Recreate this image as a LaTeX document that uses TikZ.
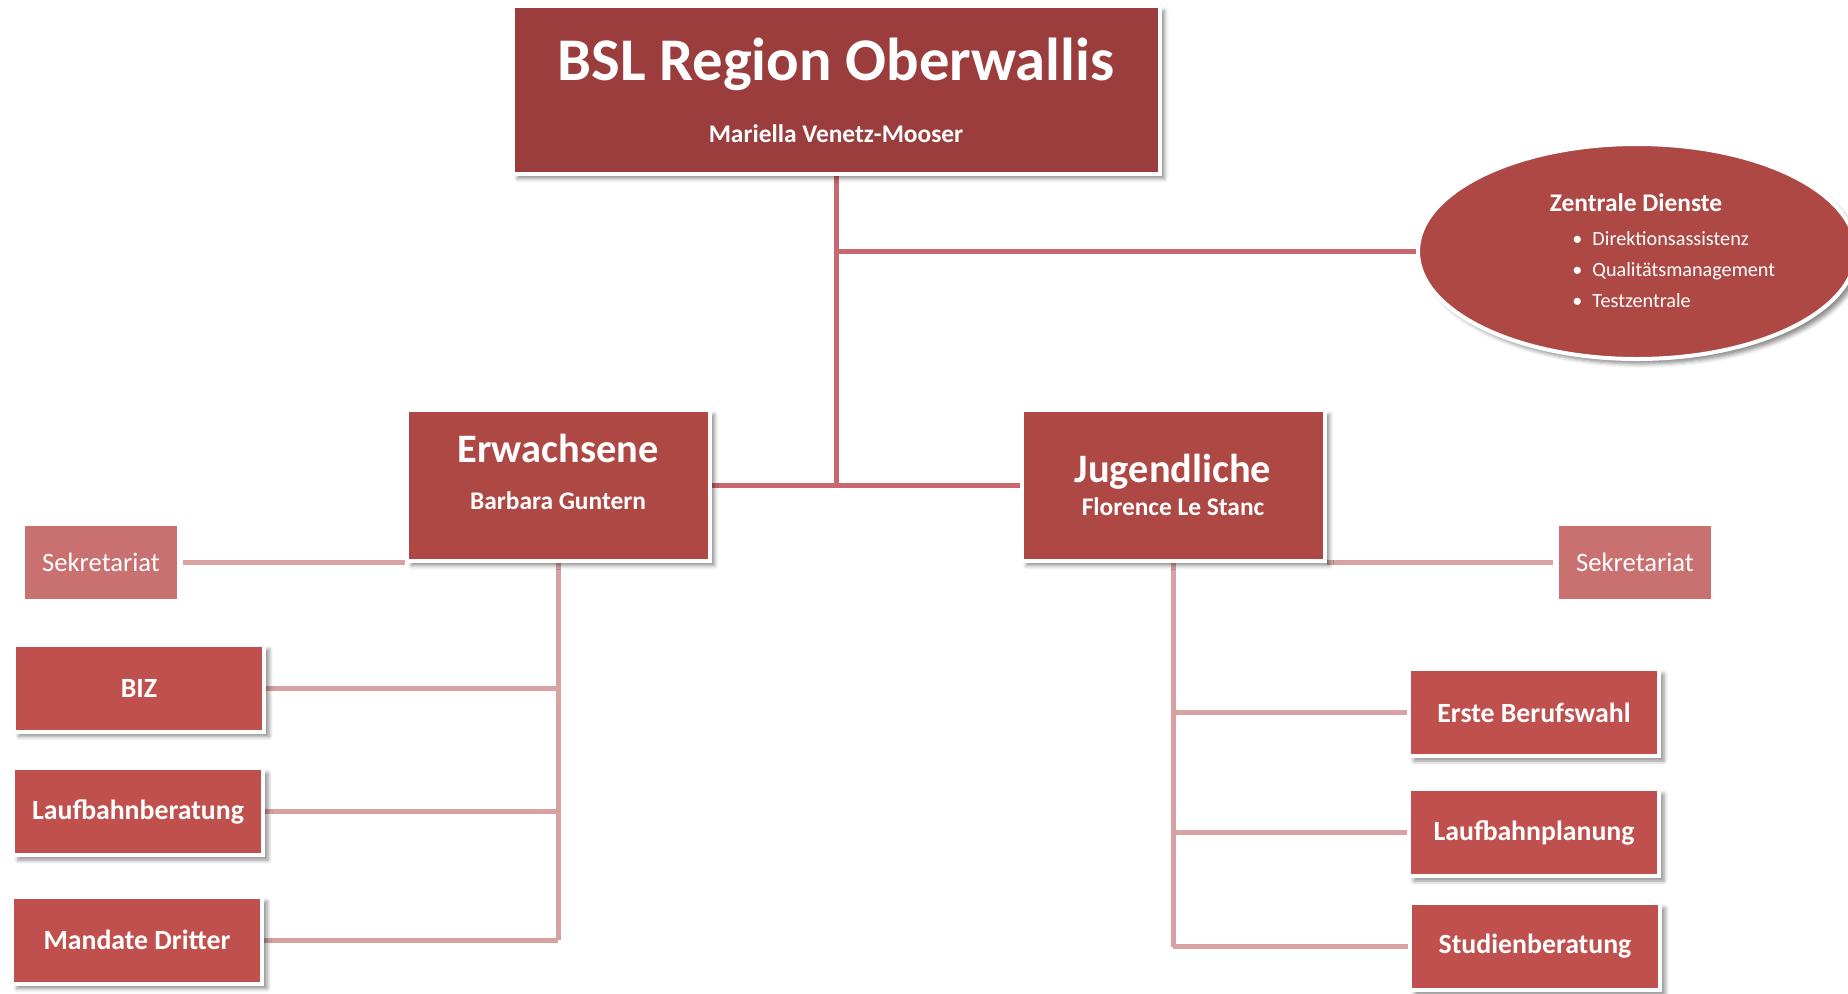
\documentclass[tikz,border=0pt]{standalone}
\usepackage{fontspec}
\setmainfont{Carlito}
\usetikzlibrary{positioning,shapes.geometric,shadows.blur,backgrounds}

\definecolor{topred}{HTML}{9B3D3D}
\definecolor{midred}{HTML}{AE4845}
\definecolor{boxred}{HTML}{C0504D}
\definecolor{sekred}{HTML}{C87170}
\definecolor{ellred}{HTML}{AD4844}
\definecolor{linemain}{HTML}{C9686E}
\definecolor{linesub}{HTML}{D8A2A3}

\tikzset{
	boxbase/.style={rectangle, draw=white, line width=2pt, inner sep=0pt, text=white,
		blur shadow={shadow xshift=2.5pt, shadow yshift=-2.5pt, shadow blur radius=2pt, shadow opacity=45}},
	bslbox/.style={boxbase, fill=topred, minimum width=323.5pt, minimum height=84pt},
	leadbox/.style={boxbase, fill=midred, minimum width=151.5pt, minimum height=75.5pt},
	unitbox/.style={boxbase, fill=boxred, minimum width=125pt, minimum height=43.5pt,
		font=\fontsize{13.9}{16}\selectfont\bfseries},
	sekbox/.style={rectangle, fill=sekred, inner sep=0pt, text=white,
		minimum width=76pt, minimum height=36.5pt, font=\fontsize{13.3}{16}\selectfont},
	zdell/.style={boxbase, ellipse, fill=ellred, minimum width=219pt, minimum height=107.5pt},
	titletext/.style={inner sep=0pt, text=white, font=\fontsize{30.3}{36}\selectfont\bfseries},
	leadtext/.style={inner sep=0pt, text=white, font=\fontsize{20.2}{24}\selectfont\bfseries},
	subtext/.style={inner sep=0pt, text=white, font=\fontsize{12.7}{15}\selectfont\bfseries},
	itemtext/.style={inner sep=0pt, text=white, font=\fontsize{10.1}{12}\selectfont},
	mainline/.style={draw=linemain, line width=2.5pt},
	subline/.style={draw=linesub, line width=2.5pt},
}

\begin{document}
\begin{tikzpicture}[x=0.5pt, y=-0.5pt]
	\useasboundingbox (0,0) rectangle (1848,993);

	% head and central services
	\node[bslbox] (bsl) at (836,89.5) {};
	\node[titletext, anchor=base] (bsltitle) at (836,80) {BSL Region Oberwallis};
	\node[subtext, anchor=base] (bslname) at (836,142.6) {Mariella Venetz-Mooser};

	\node[zdell] (zd) at (1637,251.5) {};
	\node[subtext, anchor=base] (zdtitle) at (1636,211) {Zentrale Dienste};
	\foreach \zdname [count=\i] in {Direktionsassistenz, Qualitätsmanagement, Testzentrale}
	{
		\pgfmathsetmacro{\zdy}{245+31*(\i-1)}
		\node[itemtext, anchor=base west] (zditem\i) at (1572,\zdy) {•\hspace{5pt}\zdname};
	}

	% departments
	\node[leadbox] (erw) at (558,485) {};
	\node[leadtext, anchor=base] (erwtitle) at (558,462) {Erwachsene};
	\node[subtext, anchor=base] (erwname) at (558,509) {Barbara Guntern};

	\node[leadbox] (jug) at (1173,485) {};
	\node[leadtext, anchor=base] (jugtitle) at (1173,482) {Jugendliche};
	\node[subtext, anchor=base] (jugname) at (1173,515) {Florence Le Stanc};

	\node[sekbox] (sekl) at (101,562) {Sekretariat};
	\node[sekbox] (sekr) at (1635,562) {Sekretariat};

	% units
	\node[unitbox] (biz) at (139,688) {BIZ};
	\node[unitbox] (lbberatung) at (138,811.5) {Laufbahnberatung};
	\node[unitbox] (mandate) at (137,940) {Mandate Dritter};

	\node[unitbox] (berufswahl) at (1534,712.5) {Erste Berufswahl};
	\node[unitbox] (lbplanung) at (1534,832.5) {Laufbahnplanung};
	\node[unitbox] (studien) at (1535,946.5) {Studienberatung};

	\begin{scope}[on background layer]
		\draw[mainline] (bsl.south) -- (bsl.south |- erw.east);
		\draw[mainline] (bsl.south |- zd.west) -- (zd.west);
		\draw[mainline] (erw.east) -- (jug.west);

		\draw[subline, shorten <=3pt] (sekl.east) -- (sekl.east -| erw.west);
		\draw[subline] (erw.south) -- (erw.south |- mandate.east);
		\foreach \unit in {biz, lbberatung, mandate}
			\draw[subline] (\unit.east) -- (\unit.east -| erw.south);

		\draw[subline, shorten <=3pt] (sekr.west) -- (sekr.west -| jug.east);
		\draw[subline] (jug.south) -- (jug.south |- studien.west);
		\foreach \unit in {berufswahl, lbplanung, studien}
			\draw[subline] (\unit.west) -- (\unit.west -| jug.south);
	\end{scope}
\end{tikzpicture}
\end{document}
